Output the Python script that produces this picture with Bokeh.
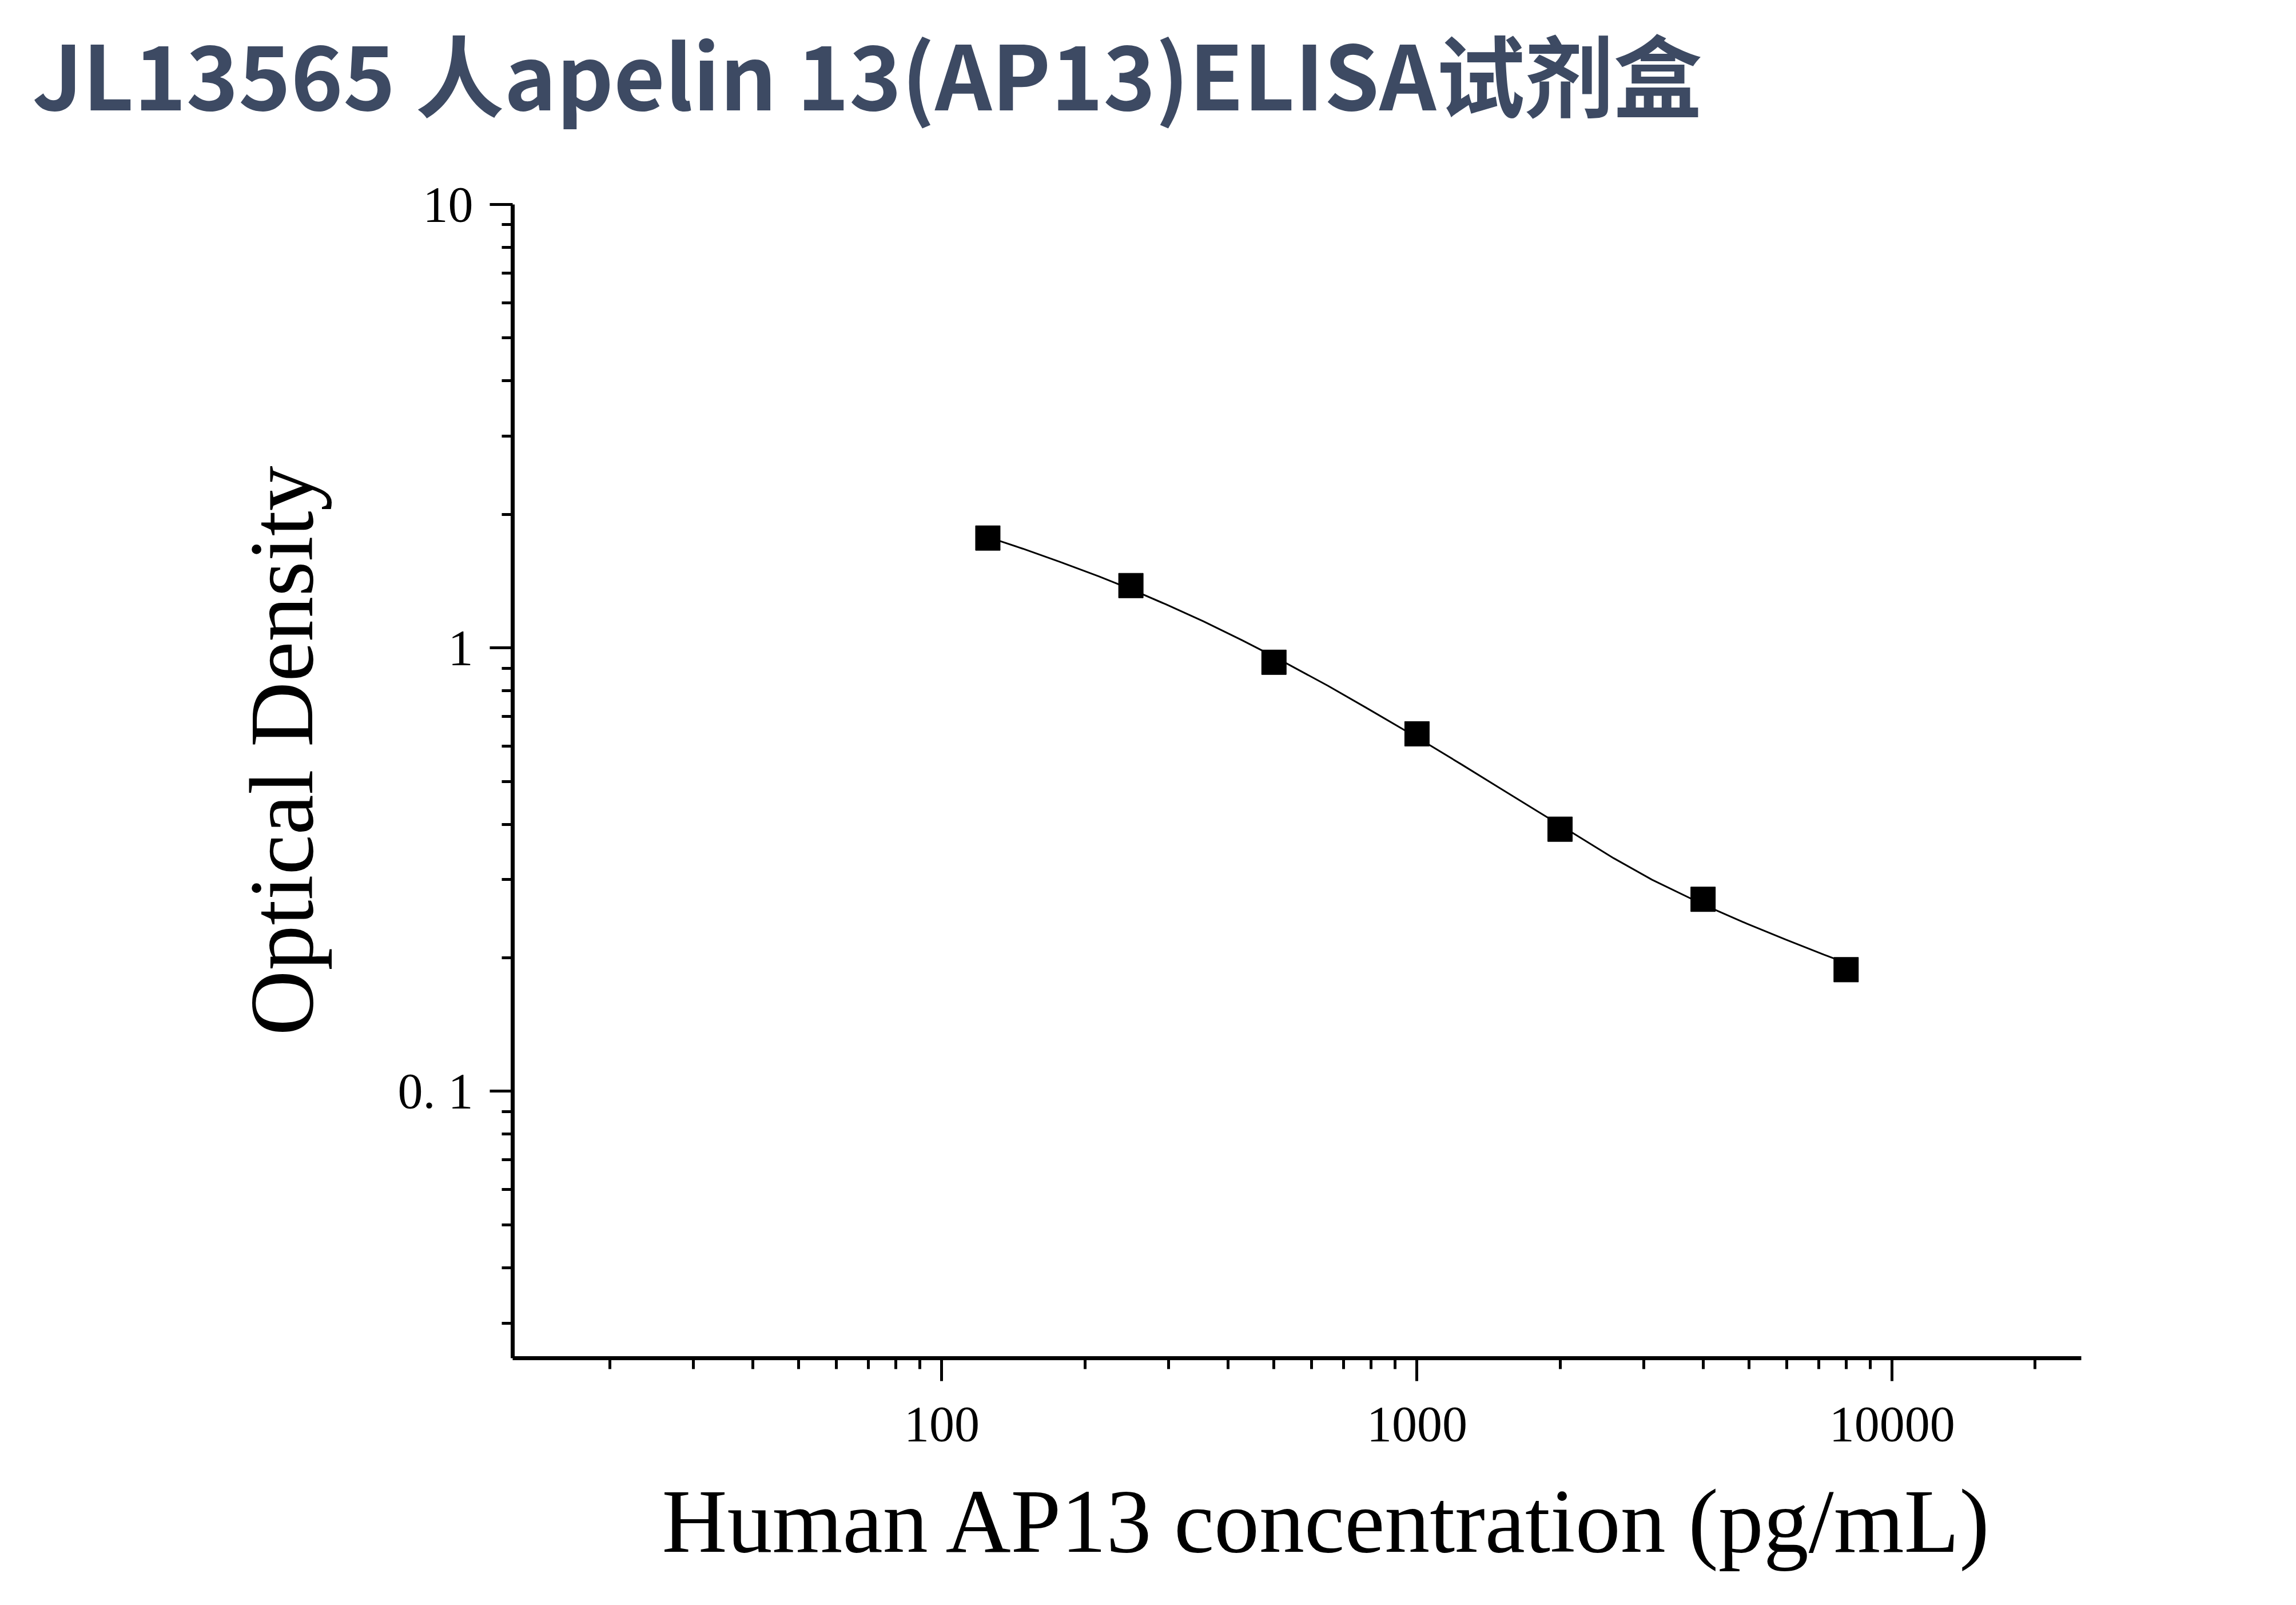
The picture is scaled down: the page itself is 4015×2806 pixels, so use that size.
from bokeh.plotting import figure
from bokeh.models import FixedTicker, Range1d, Title
from bokeh.embed import file_html
from bokeh.resources import INLINE

# ---- data ----
title_text = "JL13565 人apelin 13(AP13)ELISA试剂盒"
x_label = "Human AP13 concentration (pg/mL)"
y_label = "Optical Density"

concentration = [125, 250, 500, 1000, 2000, 4000, 8000]
optical_density = [1.769, 1.382, 0.928, 0.640, 0.390, 0.271, 0.188]

# fitted standard curve
curve_x = [125, 148, 177, 214, 250, 296, 355, 428, 500, 649, 781, 1000,
           1239, 1490, 1794, 2000, 2594, 3125, 4000, 4955, 5970, 7190, 8000]
curve_y = [1.778, 1.674, 1.564, 1.450, 1.356, 1.254, 1.148, 1.041, 0.9556,
           0.8218, 0.7332, 0.6281, 0.5464, 0.4837, 0.4278, 0.3983, 0.3354,
           0.2999, 0.2638, 0.2385, 0.2198, 0.2032, 0.1946]

x_major = [100, 1000, 10000]
x_major_labels = ["100", "1000", "10000"]
x_minor = [20, 30, 40, 50, 60, 70, 80, 90,
           200, 300, 400, 500, 600, 700, 800, 900,
           2000, 3000, 4000, 5000, 6000, 7000, 8000, 9000, 20000]
y_major = [0.1, 1, 10]
y_major_labels = ["0. 1", "1", "10"]
y_minor = [0.03, 0.04, 0.05, 0.06, 0.07, 0.08, 0.09,
           0.2, 0.3, 0.4, 0.5, 0.6, 0.7, 0.8, 0.9,
           2, 3, 4, 5, 6, 7, 8, 9]
x_limits = (12.5, 25000)
y_limits = (0.025, 10)

SERIF = "Liberation Serif"

p = figure(width=4000, height=2806, x_axis_type="log", y_axis_type="log",
           x_range=Range1d(*x_limits), y_range=Range1d(*y_limits),
           output_backend="svg", toolbar_location=None,
           min_border_left=896, min_border_right=361,
           min_border_top=357, min_border_bottom=432)
p.title = None
p.outline_line_color = None
p.xgrid.visible = False
p.ygrid.visible = False
p.background_fill_color = "white"
p.border_fill_color = "white"

p.line(curve_x, curve_y, line_color="black", line_width=3)
p.scatter(concentration, optical_density, marker="square", size=43,
          fill_color="black", line_color="black")

for ax in (p.xaxis[0], p.yaxis[0]):
    ax.axis_line_width = 7
    ax.axis_line_color = "black"
    ax.major_tick_line_width = 5
    ax.minor_tick_line_width = 5
    ax.major_tick_line_color = "black"
    ax.minor_tick_line_color = "black"
    ax.major_tick_out = 40
    ax.major_tick_in = 0
    ax.minor_tick_out = 19
    ax.minor_tick_in = 0
    ax.major_label_text_font = SERIF
    ax.major_label_text_font_size = "88px"
    ax.major_label_text_color = "black"

xa = p.xaxis[0]
xa.ticker = FixedTicker(ticks=x_major, minor_ticks=x_minor)
xa.major_label_overrides = dict(zip(x_major, x_major_labels))
xa.major_label_standoff = 46

ya = p.yaxis[0]
ya.ticker = FixedTicker(ticks=y_major, minor_ticks=y_minor)
ya.major_label_overrides = dict(zip(y_major, y_major_labels))
ya.major_label_standoff = 29
ya.major_label_orientation = "horizontal"

# axis titles (placed as panel titles so they can sit off-centre like the original)
x_title = Title(text=x_label, text_font=SERIF, text_font_size="158px",
                text_font_style="normal", text_color="black",
                align="left", offset=261, vertical_align="top", standoff=101)
p.add_layout(x_title, "below")

y_title = Title(text=y_label, text_font=SERIF, text_font_size="158px",
                text_font_style="normal", text_color="black",
                align="left", offset=564, vertical_align="bottom", standoff=226)
p.add_layout(y_title, "left")

# chart title, with an empty spacer title between it and the plot frame
spacer = Title(text=" ", text_font_size="1px", standoff=112)
p.add_layout(spacer, "above")
main_title = Title(text=title_text, text_font="Noto Sans CJK SC",
                   text_font_size="155px", text_font_style="bold",
                   text_color="#3d4a63", align="left", offset=-840,
                   vertical_align="bottom", standoff=10)
p.add_layout(main_title, "above")

open("out.html", "w").write(file_html(p, INLINE))
